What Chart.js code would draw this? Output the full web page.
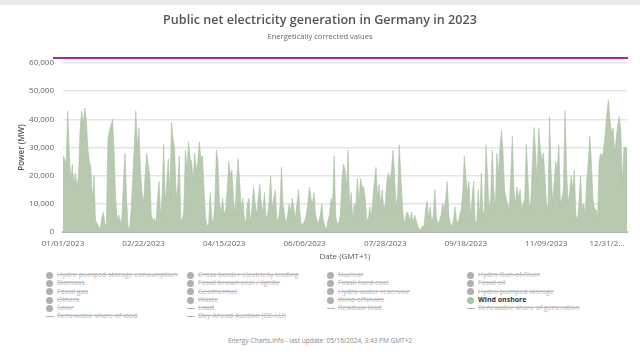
<!DOCTYPE html>
<html>
<head>
<meta charset="utf-8">
<script src="https://cdn.jsdelivr.net/npm/chart.js@4.4.1/dist/chart.umd.min.js"></script>
<style>
  html, body { margin: 0; padding: 0; background: #fff; }
  body { width: 640px; height: 360px; position: relative; overflow: hidden; font-family: "Open Sans", sans-serif; }
  #topbar { position: absolute; left: 0; top: 0; width: 640px; height: 5px; background: #e9e9e9; }
  #chartBox { position: absolute; left: 0; top: 0; width: 640px; height: 264px; }
  #purple { position: absolute; left: 53px; top: 57px; width: 575px; height: 2px; background: #a22b98; }
  #legend { position: absolute; left: 46px; top: 271px; display: grid;
    grid-template-columns: 141px 140px 140px 140px; grid-auto-rows: 8.3px;
    font-size: 7px; line-height: 8.3px; }
  .item { display: flex; align-items: center; white-space: nowrap; color: #b8b8b8; }
  .item span.txt { text-decoration: line-through; }
  .item .dot { width: 7px; height: 7px; border-radius: 50%; background: #b0b0b0; margin-right: 4px; flex: none; }
  .item .dash { width: 8px; height: 1px; background: #b0b0b0; margin-right: 3px; flex: none; }
  .item.on { color: #333; font-weight: 700; }
  .item.on span.txt { text-decoration: none; }
  .item.on .dot { background: #a9c4a1; }
  #footer { position: absolute; left: 0; width: 640px; top: 336px; text-align: center; font-size: 6.5px; color: #888; }
</style>
</head>
<body>
<div id="topbar"></div>
<div id="chartBox"><canvas id="chart" width="640" height="264"></canvas></div>
<div id="purple"></div>
<div id="legend"></div>
<div id="footer">Energy-Charts.info - last update: 05/16/2024, 3:43 PM GMT+2</div>
<script>
// x axis labels, one every 52 days
const tickLabels = ["01/01/2023", "02/22/2023", "04/15/2023", "06/06/2023", "07/28/2023", "09/18/2023", "11/09/2023", "12/31/2..."];

// wind onshore, MW, one value per day of 2023
const windOnshore = [
  27000, 26000, 24000, 43000, 29000, 18000, 24000, 17000, 21000, 16000, 20000, 36000, 43000, 38000, 44000, 40000, 30000, 25000, 23000, 11000,
  20000, 4000, 3000, 2000, 1000, 5000, 7000, 3000, 2000,
  33000, 36000, 38000, 40000, 28000, 12000, 4000, 6000, 3000, 5000, 17000, 28000, 12000, 2000, 1000, 8000, 19000, 30000, 43000, 30000, 37000,
  22000, 14000, 10000, 20000, 28000, 24000, 20000, 6000, 4000, 5000, 3000, 12000, 18000, 5000, 14000, 31000, 10000, 18000, 26000, 12000,
  39000, 33000, 30000, 12000, 16000, 27000, 5000, 4000, 8000, 29000, 22000, 32000, 26000, 25000, 18000, 28000, 22000, 25000, 32000,
  26000, 27000, 15000, 5000, 2000, 3000, 14000, 5000, 3000, 10000, 29000, 25000, 10000, 7000, 12000, 6000, 8000, 15000, 25000, 20000,
  22000, 12000, 6000, 18000, 26000, 18000, 8000, 12000, 5000, 3000, 10000, 12000, 3000, 9000, 16000, 10000, 6000, 12000, 17000, 10000,
  7000, 14000, 5000,
  6000, 11000, 20000, 8000, 12000, 15000, 5000, 4000, 9000, 23000, 10000, 6000, 3000, 6000, 10000, 7000, 12000, 8000, 5000, 10000,
  15000, 6000, 2000, 3000, 4000, 6000, 10000, 16000, 12000, 10000, 14000, 6000, 4000, 3000, 6000, 10000, 4000, 2000, 1000, 4000,
  6000, 12000, 10000, 27000,
  5000, 3000, 3000, 6000, 18000, 24000, 22000, 16000, 29000, 8000, 14000, 4000, 10000, 9000, 19000, 10000, 19000, 16000, 16000, 12000,
  5000, 4000, 9000, 5000, 12000, 18000, 23000, 12000, 17000, 10000, 15000, 8000, 10000, 18000, 21000, 18000, 22000, 29000, 20000, 8000,
  14000, 31000, 20000, 10000, 3000,
  5000, 7000, 6000, 4000, 7000, 3000, 6000, 4000, 2000, 1000, 1000, 2000, 2000, 8000, 11000, 5000, 9000, 3000, 6000, 15000,
  5000, 3000, 4000, 6000, 10000, 8000, 12000, 18000, 6000, 3000, 2000, 4000, 9000, 4000, 3000, 6000, 8000, 14000, 27000, 20000,
  14000, 18000,
  5000, 12000, 18000, 4000, 3000, 15000, 5000, 21000, 6000, 8000, 31000, 20000, 8000, 12000, 29000, 15000,
  8000, 28000, 20000, 30000, 36000, 28000, 15000, 12000, 10000, 8000, 20000, 34000, 15000, 10000, 16000, 12000, 15000, 8000, 10000, 12000,
  31000, 20000, 8000, 12000, 25000, 37000, 28000, 18000, 37000, 30000, 25000, 28000, 20000, 10000,
  8000, 41000, 22000, 10000, 18000, 25000, 22000, 31000, 10000, 12000, 15000, 43000, 22000, 10000, 14000, 20000, 15000, 22000, 6000,
  4000, 10000, 20000, 8000, 10000, 6000, 18000, 25000, 34000, 25000, 12000, 8000, 8000, 5000, 25000, 28000, 26000, 30000, 35000, 42000,
  47000, 40000, 35000, 37000, 28000, 33000, 38000, 41000, 36000, 17000, 30000, 30000, 30000
];

// legend entries, row by row as in the picture
const seriesNames = [
  "Hydro pumped storage consumption", "Cross border electricity trading", "Nuclear", "Hydro Run-of-River",
  "Biomass", "Fossil brown coal / lignite", "Fossil hard coal", "Fossil oil",
  "Fossil gas", "Geothermal", "Hydro water reservoir", "Hydro pumped storage",
  "Others", "Waste", "Wind offshore", "Wind onshore",
  "Solar", "Load", "Residual load", "Renewable share of generation",
  "Renewable share of load", "Day Ahead Auction (DE-LU)"
];
const lineSeries = ["Load", "Residual load", "Renewable share of generation", "Renewable share of load", "Day Ahead Auction (DE-LU)"];
const shownSeries = "Wind onshore";

const FONT = '"Open Sans", sans-serif';
Chart.defaults.font.family = FONT;

const datasets = seriesNames.map((name) => ({
  label: name,
  data: name === shownSeries ? windOnshore : [],
  hidden: name !== shownSeries,
  fill: "origin",
  backgroundColor: "#b7cab0",
  borderColor: "#aac0a3",
  borderWidth: 0.6,
  pointRadius: 0,
  tension: 0
}));

new Chart(document.getElementById("chart"), {
  type: "line",
  data: { labels: windOnshore.map((_, i) => i), datasets },
  options: {
    responsive: false,
    animation: false,
    devicePixelRatio: 1,
    layout: { padding: { left: 13, right: 13, top: 0, bottom: 0 } },
    plugins: {
      legend: { display: false },
      tooltip: { enabled: false },
      title: {
        display: true,
        text: "Public net electricity generation in Germany in 2023",
        color: "#555",
        font: { size: 12.6, weight: "600" },
        padding: { top: 12.4, bottom: 0 }
      },
      subtitle: {
        display: true,
        text: "Energetically corrected values",
        color: "#666",
        font: { size: 7.6 },
        padding: { top: 4.6, bottom: 21.8 }
      }
    },
    scales: {
      x: {
        grid: { display: false, drawTicks: false },
        border: { display: true, color: "#b2b2b2", width: 2 },
        ticks: {
          autoSkip: false, maxRotation: 0, minRotation: 0, padding: 7,
          color: "#666", font: { size: 8 },
          callback: (v, i) => {
            if (i % 52 !== 0) return "";
            const t = tickLabels[i / 52];
            return i / 52 === tickLabels.length - 1 ? t + "\u2003\u2003\u2003\u2003\u2003" : t;
          }
        },
        title: { display: true, text: "Date (GMT+1)", color: "#555", font: { size: 8 }, padding: { top: 2, bottom: 2.2 } },
        afterFit: (s) => { s.paddingRight = 0; s.height = 32; }
      },
      y: {
        min: 0, max: 60000,
        grid: { color: "#e4e4e4", lineWidth: 1.5, drawTicks: false },
        border: { display: false },
        ticks: {
          stepSize: 10000, padding: 9, color: "#666", font: { size: 8 },
          callback: (v) => v.toLocaleString("en-US")
        },
        title: { display: true, text: "Power (MW)", color: "#555", font: { size: 8, weight: "600" }, padding: { top: 4, bottom: 0 } },
        afterFit: (s) => { s.width = 50; }
      }
    }
  }
});

// html legend in four columns
const legendEl = document.getElementById("legend");
legendEl.innerHTML = seriesNames.map((name) => {
  const mark = lineSeries.includes(name) ? '<span class="dash"></span>' : '<span class="dot"></span>';
  const cls = name === shownSeries ? "item on" : "item";
  return `<div class="${cls}">${mark}<span class="txt">${name}</span></div>`;
}).join("");
</script>
</body>
</html>
